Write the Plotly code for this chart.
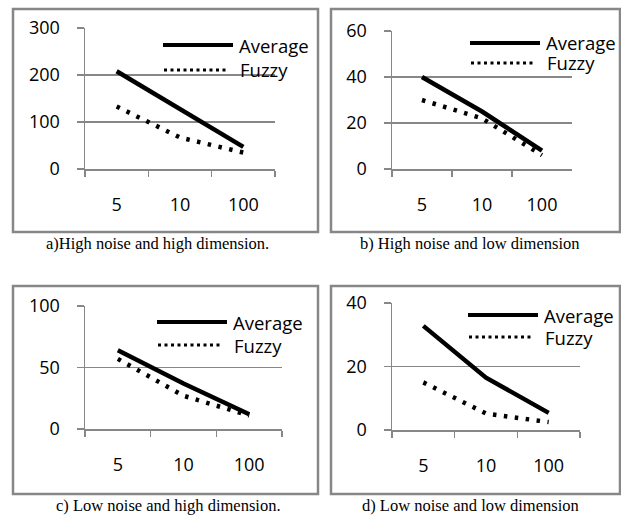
import plotly.graph_objects as go

W, H = 621, 518

categories = ["5", "10", "100"]
series_names = ["Average", "Fuzzy"]

avg_a = [208, 127, 47]
fuzzy_a = [133, 67, 35]
avg_b = [40, 25, 8]
fuzzy_b = [30, 22, 6]
avg_c = [64, 37, 12]
fuzzy_c = [57, 27, 11]
avg_d = [32.8, 16.5, 5.4]
fuzzy_d = [15, 5.2, 2.5]

yticks_a = [0, 100, 200, 300]
yticks_b = [0, 20, 40, 60]
yticks_c = [0, 50, 100]
yticks_d = [0, 20, 40]

captions = [
    "a)High noise and high dimension.",
    "b) High noise and low dimension",
    "c) Low noise and high dimension.",
    "d) Low noise and low dimension",
]

GRAY = "#878787"
TICKFONT = dict(family="Open Sans", size=18, color="#000000")
LEGFONT = dict(family="Open Sans", size=18.5, color="#000000")


def px(x):
    return x / W


def py(y):
    return 1 - y / H


# panel layout in pixels: box, plot area, legend, caption
panels = [
    dict(avg=avg_a, fz=fuzzy_a, ticks=yticks_a, box=(13, 9, 318, 232),
         plot=(85, 28, 275, 169), leg=(163, 45, 70), cap=(157, 244)),
    dict(avg=avg_b, fz=fuzzy_b, ticks=yticks_b, box=(331, 9, 620, 232),
         plot=(392, 31, 572, 169), leg=(470, 43, 63), cap=(470, 244)),
    dict(avg=avg_c, fz=fuzzy_c, ticks=yticks_c, box=(13, 286, 318, 494),
         plot=(85, 306, 282, 429), leg=(157, 322, 345), cap=(168, 505)),
    dict(avg=avg_d, fz=fuzzy_d, ticks=yticks_d, box=(331, 286, 620, 494),
         plot=(392, 303, 580, 430), leg=(468, 315, 337), cap=(470, 505)),
]

fig = go.Figure()
shapes = []
annotations = []
layout = {}

for i, p in enumerate(panels, start=1):
    xa = "x" if i == 1 else f"x{i}"
    ya = "y" if i == 1 else f"y{i}"
    fig.add_trace(go.Scatter(x=categories, y=p["avg"], mode="lines", name=series_names[0],
                             line=dict(color="black", width=4.5), xaxis=xa, yaxis=ya,
                             showlegend=False, hoverinfo="skip"))
    fig.add_trace(go.Scatter(x=categories, y=p["fz"], mode="lines", name=series_names[1],
                             line=dict(color="black", width=4.5, dash="3.5px,7.5px"),
                             xaxis=xa, yaxis=ya, showlegend=False, hoverinfo="skip"))
    x0, y0, x1, y1 = p["plot"]
    xkey = "xaxis" if i == 1 else f"xaxis{i}"
    ykey = "yaxis" if i == 1 else f"yaxis{i}"
    layout[xkey] = dict(
        type="category", categoryorder="array", categoryarray=categories,
        range=[-0.5, 2.5], domain=[px(x0), px(x1)], anchor=ya, automargin=False,
        showline=True, linecolor=GRAY, linewidth=1.5, showgrid=False,
        ticks="outside", ticklen=6, tickcolor=GRAY, tickwidth=1.5,
        tickson="boundaries", tickfont=TICKFONT, ticklabelstandoff=19,
        zeroline=False, fixedrange=True,
    )
    layout[ykey] = dict(
        range=[0, p["ticks"][-1]], domain=[py(y1), py(y0)], anchor=xa, automargin=False,
        tickmode="array", tickvals=p["ticks"], ticktext=[str(t) for t in p["ticks"]],
        showline=True, linecolor=GRAY, linewidth=1.5,
        showgrid=True, gridcolor=GRAY, gridwidth=1.5,
        ticks="outside", ticklen=7, tickcolor=GRAY, tickwidth=1.5,
        tickfont=TICKFONT, ticklabelstandoff=13, zeroline=False, fixedrange=True,
    )
    # outer chart border
    bx0, by0, bx1, by1 = p["box"]
    shapes.append(dict(type="rect", xref="paper", yref="paper",
                       x0=px(bx0), x1=px(bx1), y0=py(by1), y1=py(by0),
                       line=dict(color=GRAY, width=2.5)))
    # legend samples and labels
    lx, ly1, ly2 = p["leg"]
    shapes.append(dict(type="line", xref="paper", yref="paper",
                       x0=px(lx), x1=px(lx + 70), y0=py(ly1), y1=py(ly1),
                       line=dict(color="black", width=4)))
    shapes.append(dict(type="line", xref="paper", yref="paper",
                       x0=px(lx + 1), x1=px(lx + 66), y0=py(ly2), y1=py(ly2),
                       line=dict(color="black", width=3, dash="3px,3.5px")))
    annotations.append(dict(text=series_names[0], xref="paper", yref="paper",
                            x=px(lx + 74), y=py(ly1), xanchor="left", yanchor="middle",
                            showarrow=False, font=LEGFONT))
    annotations.append(dict(text=series_names[1], xref="paper", yref="paper",
                            x=px(lx + 75), y=py(ly2), xanchor="left", yanchor="middle",
                            showarrow=False, font=LEGFONT))
    cx, cy = p["cap"]
    annotations.append(dict(text=captions[i - 1], xref="paper", yref="paper",
                            x=px(cx), y=py(cy), xanchor="center", yanchor="middle",
                            showarrow=False,
                            font=dict(family="Liberation Serif", size=16.5, color="black")))

fig.update_layout(
    width=W, height=H, margin=dict(l=0, r=0, t=0, b=0, autoexpand=False),
    paper_bgcolor="white", plot_bgcolor="white",
    shapes=shapes, annotations=annotations, showlegend=False,
    **layout,
)

fig.write_html("out.html", config={"displayModeBar": False, "staticPlot": True},
               post_script="document.body.style.margin='0';document.body.style.overflow='hidden';")
